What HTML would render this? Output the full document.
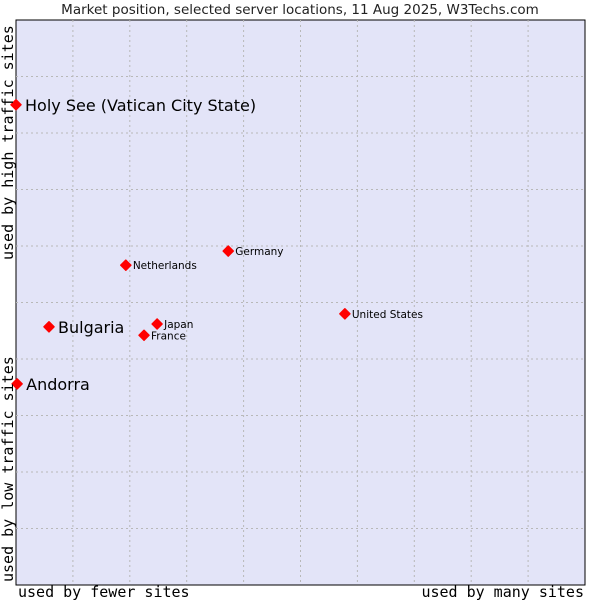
<!DOCTYPE html>
<html><head><meta charset="utf-8"><style>
html,body{margin:0;padding:0;background:#fff}
svg{display:block}
</style></head><body>
<svg id="chart" width="600" height="600" xmlns="http://www.w3.org/2000/svg">
<text x="300" y="14" text-anchor="middle" font-family="DejaVu Sans, Liberation Sans, sans-serif" font-size="13.5" fill="#222">Market position, selected server locations, 11 Aug 2025, W3Techs.com</text>
<rect x="16" y="20" width="569" height="565" fill="#e3e4f8" stroke="#000" stroke-width="1"/>
<g id="grid"></g>
<g id="points"></g>
<text x="18" y="597" font-family="DejaVu Sans Mono, Liberation Mono, monospace" font-size="15" fill="#000">used by fewer sites</text>
<text x="584" y="597" text-anchor="end" font-family="DejaVu Sans Mono, Liberation Mono, monospace" font-size="15" fill="#000">used by many sites</text>
<text transform="translate(13,582) rotate(-90)" font-family="DejaVu Sans Mono, Liberation Mono, monospace" font-size="15" fill="#000">used by low traffic sites</text>
<text transform="translate(13,260) rotate(-90)" font-family="DejaVu Sans Mono, Liberation Mono, monospace" font-size="15" fill="#000">used by high traffic sites</text>
</svg>
<script>
const names = ["Holy See (Vatican City State)","Bulgaria","Andorra","Netherlands","Germany","Japan","France","United States"];
const xValues = [0, 5.8, 0.2, 19.3, 37.3, 24.8, 22.5, 57.8];
const yValues = [85, 45.7, 35.6, 56.6, 59.1, 46.2, 44.2, 48.0];
const bigLabel = [true, true, true, false, false, false, false, false];
const gridTicks = [10,20,30,40,50,60,70,80,90];

const NS = "http://www.w3.org/2000/svg";
const X0 = 16, W = 569, Y0 = 20, H = 565;
function xs(v){ return X0 + v / 100 * W; }
function ys(v){ return Y0 + H - v / 100 * H; }

const grid = document.getElementById('grid');
gridTicks.forEach(t => {
  const v = document.createElementNS(NS, 'line');
  v.setAttribute('x1', xs(t)); v.setAttribute('x2', xs(t));
  v.setAttribute('y1', Y0); v.setAttribute('y2', Y0 + H);
  v.setAttribute('stroke', '#b8b8b8'); v.setAttribute('stroke-dasharray', '2,3');
  
  
  grid.appendChild(v);
  const h = document.createElementNS(NS, 'line');
  h.setAttribute('y1', ys(t)); h.setAttribute('y2', ys(t));
  h.setAttribute('x1', X0); h.setAttribute('x2', X0 + W);
  h.setAttribute('stroke', '#b8b8b8'); h.setAttribute('stroke-dasharray', '2,3');
  
  
  grid.appendChild(h);
});

const pts = document.getElementById('points');
names.forEach((n, i) => {
  const cx = xs(xValues[i]), cy = ys(yValues[i]);
  const d = document.createElementNS(NS, 'polygon');
  const r = 5;
  d.setAttribute('points', `${cx},${cy-r} ${cx+r},${cy} ${cx},${cy+r} ${cx-r},${cy}`);
  d.setAttribute('fill', '#ff0000');
  d.setAttribute('stroke', '#ff0000');
  d.setAttribute('stroke-linejoin', 'round');
  d.setAttribute('stroke-width', '1.5');
  
  
  pts.appendChild(d);
  const t = document.createElementNS(NS, 'text');
  t.setAttribute('x', cx + (bigLabel[i] ? 9 : 7));
  t.setAttribute('y', cy + (bigLabel[i] ? 6 : 4));
  t.setAttribute('font-family', 'DejaVu Sans, Liberation Sans, sans-serif');
  t.setAttribute('font-size', bigLabel[i] ? '16' : '10.5');
  t.setAttribute('fill', '#000');
  t.textContent = n;
  
  
  pts.appendChild(t);
});
</script>
</body></html>
